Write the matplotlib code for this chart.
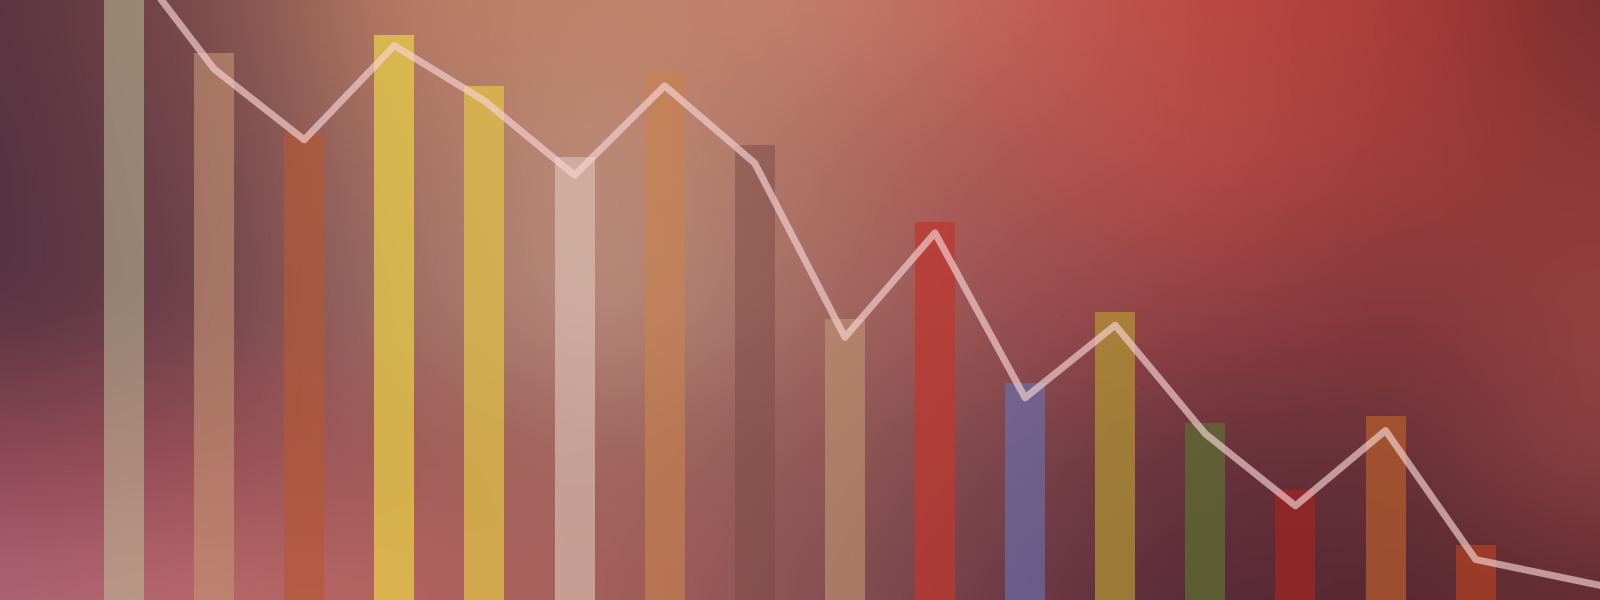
import numpy as np
import matplotlib
matplotlib.use("Agg")
import matplotlib.pyplot as plt

# ---- data ----
categories = list(range(16))
bar_values = [104, 91.1, 78.0, 94.2, 85.6, 73.8, 88.0, 75.8, 46.8, 63.0, 36.2, 48.0, 29.5, 18.3, 30.7, 9.2]
line_positions = list(range(16)) + [17]
line_values = [108.2, 88.5, 76.7, 92.4, 83.2, 70.8, 85.7, 72.8, 43.8, 61.2, 33.7, 45.8, 27.7, 15.7, 28.25, 6.75, 0.5]

# ---- style ----
bar_colors = [
    (192, 190, 152), (198, 148, 116), (182, 88, 52), (232, 205, 72),
    (225, 192, 72), (222, 200, 186), (200, 130, 80), (125, 75, 70),
    (195, 152, 116), (192, 55, 47), (105, 115, 180), (178, 150, 52),
    (92, 112, 50), (160, 38, 34), (182, 93, 45), (176, 66, 36),
]
bar_alphas = [0.55, 0.6, 0.65, 0.75, 0.75, 0.6, 0.65, 0.5, 0.6, 0.72, 0.62, 0.72, 0.72, 0.72, 0.72, 0.72]

# background colour grid (rows top->bottom, cols left->right)
bg_grid = np.array([
    [(88,52,65),(125,75,75),(185,125,100),(190,130,105),(195,128,110),(195,100,90),(190,72,66),(172,60,58),(120,45,45)],
    [(85,50,65),(115,70,75),(170,115,100),(190,140,120),(175,115,100),(175,88,84),(182,75,72),(160,62,60),(140,55,55)],
    [(85,50,65),(110,65,75),(160,110,100),(185,140,125),(165,110,100),(155,80,82),(150,65,68),(135,55,58),(150,65,62)],
    [(140,70,85),(150,78,85),(160,92,88),(162,105,95),(148,90,87),(125,70,76),(105,50,60),(105,50,57),(140,65,65)],
    [(175,100,120),(185,105,108),(180,100,95),(165,95,90),(138,82,85),(110,58,70),(88,42,56),(88,40,50),(100,45,50)],
], dtype=float) / 255.0

H, W = 150, 400
gy = np.linspace(0, bg_grid.shape[0] - 1, H)
gx = np.linspace(0, bg_grid.shape[1] - 1, W)
tmp = np.empty((bg_grid.shape[0], W, 3))
for r in range(bg_grid.shape[0]):
    for c in range(3):
        tmp[r, :, c] = np.interp(gx, np.arange(bg_grid.shape[1]), bg_grid[r, :, c])
img = np.empty((H, W, 3))
for j in range(W):
    for c in range(3):
        img[:, j, c] = np.interp(gy, np.arange(bg_grid.shape[0]), tmp[:, j, c])

def blur(a, k, axis):
    pad = k // 2
    a2 = np.concatenate([np.repeat(a.take([0], axis=axis), pad, axis=axis), a,
                         np.repeat(a.take([-1], axis=axis), pad, axis=axis)], axis=axis)
    cs = np.cumsum(a2, axis=axis)
    cs = np.concatenate([np.zeros_like(a2.take([0], axis=axis)), cs], axis=axis)
    n = a.shape[axis]
    hi = cs.take(np.arange(k, k + n), axis=axis)
    lo = cs.take(np.arange(0, n), axis=axis)
    return (hi - lo) / k

for _ in range(3):
    img = blur(img, 21, 1)
    img = blur(img, 15, 0)
img = np.clip(img, 0, 1)

fig = plt.figure(figsize=(16, 6), dpi=100)
ax = fig.add_axes([0, 0, 1, 1])
xmin, xmax = -1.376, 16.38
ymin, ymax = 0, 100
ax.imshow(img, extent=(xmin, xmax, ymin, ymax), aspect="auto", interpolation="bilinear", zorder=0)

for x, v, col, a in zip(categories, bar_values, bar_colors, bar_alphas):
    ax.bar(x, v, width=0.444, color=np.array(col) / 255.0, alpha=a, zorder=2, linewidth=0)

ax.plot(line_positions, line_values, color=(245/255, 212/255, 212/255), alpha=0.65,
        linewidth=5.0, solid_joinstyle="round", solid_capstyle="round", zorder=3)

ax.set_xlim(xmin, xmax)
ax.set_ylim(ymin, ymax)
ax.axis("off")
fig.savefig("out.png", dpi=100)
